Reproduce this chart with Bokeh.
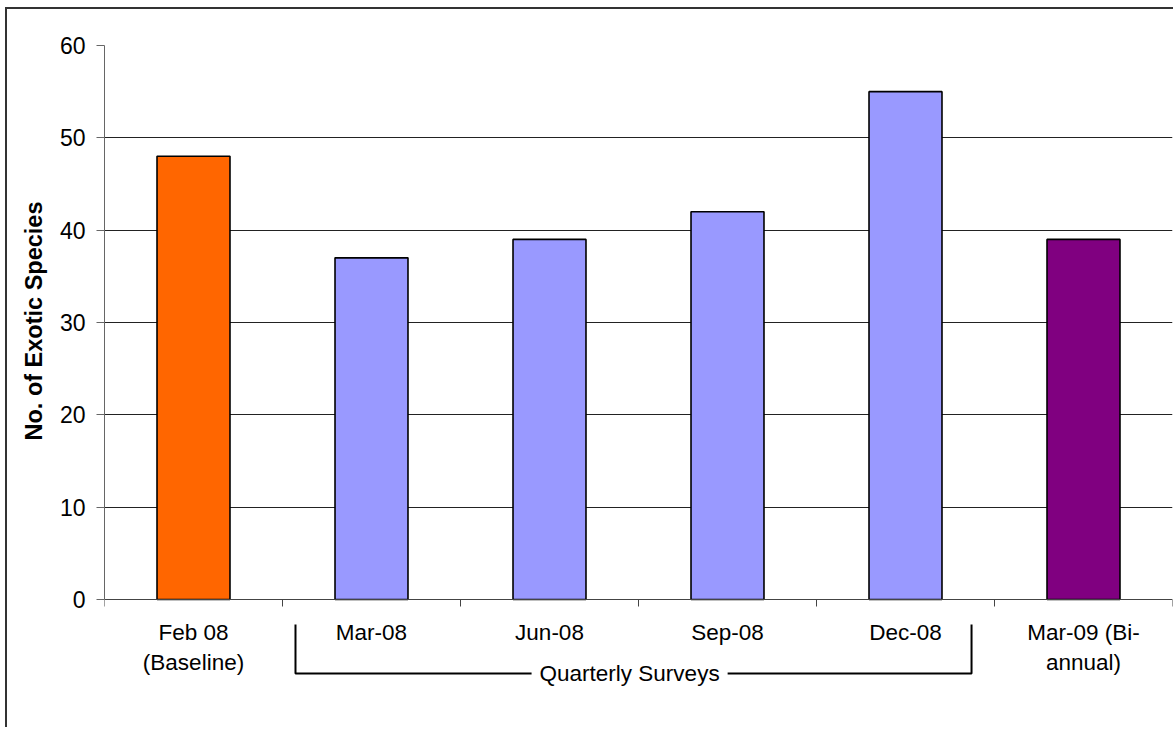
from bokeh.plotting import figure
from bokeh.models import Range1d, FixedTicker, Label, ColumnDataSource, Title
from bokeh.core.properties import value
from bokeh.embed import file_html
from bokeh.resources import INLINE

# ---- data ----
label_line1 = ["Feb 08", "Mar-08", "Jun-08", "Sep-08", "Dec-08", "Mar-09 (Bi-"]
label_line2 = ["(Baseline)", "", "", "", "", "annual)"]
values = [48, 37, 39, 42, 55, 39]
colors = ["#FF6600", "#9999FF", "#9999FF", "#9999FF", "#9999FF", "#800080"]
group_label = "Quarterly Surveys"
group_first, group_last = 1, 4          # indices of the bracketed categories
y_ticks = [0, 10, 20, 30, 40, 50, 60]
y_title = "No. of Exotic Species"

FONT = "Liberation Sans"
WIN_W, WIN_H = 1175, 729
OFF_X, OFF_Y = 7, 9                      # canvas offset (margin + border)
W, H = WIN_W - OFF_X, WIN_H - OFF_Y
FRAME_L, FRAME_R, FRAME_T, ZERO_Y = 104, 1172, 45, 599   # window pixels
n = len(values)
ymax = 60
ppu_y = (ZERO_Y - FRAME_T) / ymax
ymin = -(WIN_H - ZERO_Y) / ppu_y

def py(pixels_below_zero):
    return -pixels_below_zero / ppu_y

p = figure(width=W, height=H, output_backend="svg", toolbar_location=None,
           x_range=Range1d(0, n), y_range=Range1d(ymin, ymax),
           min_border_left=FRAME_L - OFF_X, min_border_right=WIN_W - FRAME_R,
           min_border_top=FRAME_T - OFF_Y, min_border_bottom=0,
           styles={"margin-left": "5px", "margin-top": "7px",
                   "border-left": "2px solid #333333",
                   "border-top": "2px solid #333333"})
p.outline_line_color = None
p.background_fill_color = "white"
p.border_fill_color = "white"

centers = [i + 0.5 for i in range(n)]

# grid
p.xgrid.grid_line_color = None
p.ygrid.ticker = FixedTicker(ticks=[t for t in y_ticks if 0 < t < ymax])
p.ygrid.grid_line_color = "#222222"
p.ygrid.grid_line_width = 1

src = ColumnDataSource(dict(x=centers, top=values, color=colors))
p.vbar(x="x", top="top", bottom=0, width=0.41, source=src, fill_color="color",
       line_color="black", line_width=1.6)

# y axis
p.yaxis.bounds = (0, ymax)
p.yaxis.ticker = FixedTicker(ticks=y_ticks)
p.yaxis.axis_line_color = "#666666"
p.yaxis.major_tick_line_color = "#666666"
p.yaxis.major_tick_out = 8
p.yaxis.major_tick_in = 0
p.yaxis.minor_tick_line_color = None
p.yaxis.major_label_text_font = FONT
p.yaxis.major_label_text_font_size = "23px"
p.yaxis.major_label_text_color = "black"
p.yaxis.major_label_standoff = 11

# y axis title, centred on the 0..60 span rather than the whole frame
p.add_layout(Title(text=y_title, align="left", offset=WIN_H - 440,
                   text_font=FONT, text_font_size="23.5px", text_font_style="bold",
                   text_color="black", standoff=20), "left")

# x axis drawn at y = 0, ticks at category boundaries
p.xaxis.visible = False
bounds = list(range(n + 1))
p.segment(x0=0, y0=0, x1=n, y1=0, line_color="#444444", line_width=1)
p.segment(x0=bounds, y0=[0] * len(bounds), x1=bounds, y1=[py(7)] * len(bounds),
          line_color="#444444", line_width=1)

# category labels
p.text(x=centers, y=[py(33)] * n, text=label_line1, text_align="center",
       text_baseline="middle", text_font=value(FONT), text_font_size="22.5px",
       text_color="black")
p.text(x=centers, y=[py(63)] * n, text=label_line2, text_align="center",
       text_baseline="middle", text_font=value(FONT), text_font_size="22.5px",
       text_color="black")

# bracket for quarterly surveys
bx0 = group_first + 0.073
bx1 = group_last + 1 - 0.129
ytop, ybot = py(25), py(74)
p.line(x=[bx0, bx0, bx1, bx1], y=[ytop, ybot, ybot, ytop],
       line_color="black", line_width=2)
p.add_layout(Label(x=(group_first + group_last + 1) / 2 - 0.05, y=ybot,
                   text=group_label, text_align="center", text_baseline="middle",
                   text_font=FONT, text_font_size="22.5px", text_color="black",
                   background_fill_color="white", padding=8))

open("out.html", "w").write(file_html(p, INLINE))
